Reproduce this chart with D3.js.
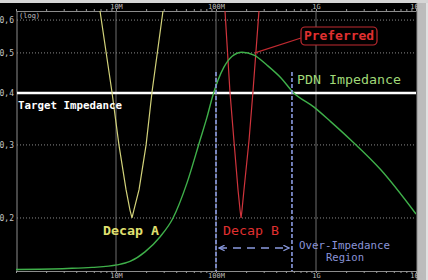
<!DOCTYPE html>
<html>
<head>
<meta charset="utf-8">
<script src="https://cdn.jsdelivr.net/npm/d3@7/dist/d3.min.js"></script>
<style>
html,body{margin:0;padding:0;background:#000;overflow:hidden}
text{font-family:"DejaVu Sans Mono","Liberation Mono",monospace}
</style>
</head>
<body>
<script>
// axis ticks
var freqDecades = [1e7, 1e8, 1e9, 1e10];
var freqLabels = ["10M", "100M", "1G", "10G"];
var impTicks = [0.2, 0.3, 0.4, 0.5, 0.6];
var targetImpedance = 0.4;

// PDN impedance (Hz, ohm)
var pdnFreq = [1e6, 3.24e6, 5.75e6, 1.02e7, 1.38e7, 1.95e7, 2.75e7, 3.72e7, 5.13e7, 6.92e7, 8.13e7, 9.33e7,
               1.20e8, 1.45e8, 1.82e8, 2.40e8, 3.24e8, 4.47e8, 5.89e8, 9.55e8, 1.41e9, 2.24e9, 4.47e9, 1e10];
var pdnZ = [0.1503, 0.1511, 0.1520, 0.1541, 0.1571, 0.1657, 0.180, 0.200, 0.243, 0.308, 0.350, 0.396,
            0.462, 0.491, 0.502, 0.494, 0.467, 0.435, 0.402, 0.370, 0.341, 0.308, 0.261, 0.2045];

// decap A
var decapAFreq = [6.61e6, 6.92e6, 9.12e6, 1.07e7, 1.26e7, 1.38e7, 1.445e7, 1.51e7, 1.70e7, 2.0e7, 2.29e7, 2.95e7, 3.09e7];
var decapAZ = [0.682, 0.631, 0.402, 0.300, 0.234, 0.209, 0.200, 0.209, 0.234, 0.300, 0.402, 0.631, 0.682];

// decap B
var decapBFreq = [1.20e8, 1.23e8, 1.38e8, 1.51e8, 1.66e8, 1.74e8, 1.78e8, 1.82e8, 1.905e8, 2.14e8, 2.34e8, 2.69e8, 2.75e8];
var decapBZ = [0.682, 0.631, 0.402, 0.308, 0.234, 0.209, 0.200, 0.209, 0.234, 0.308, 0.402, 0.631, 0.682];

// over-impedance band
var overRegion = [1e8, 5.75e8];

var W = 428, H = 280;
var mL = 16, mR = 416, mT = 11, mB = 271;

var svg = d3.select("body").append("svg")
    .attr("width", W)
    .attr("height", H)
    .style("display", "block");

svg.append("rect").attr("width", W).attr("height", H).attr("fill", "#000");

var x = d3.scaleLog().domain([1e6, 1e10]).range([mL, mR]);
var y = d3.scaleLog().domain([0.149, 0.631]).range([mB, mT]);

var defs = svg.append("defs");
defs.append("clipPath").attr("id", "plot")
    .append("rect")
    .attr("x", mL).attr("y", mT)
    .attr("width", mR - mL).attr("height", mB - mT);

defs.append("marker").attr("id", "arr")
    .attr("viewBox", "0 0 10 10").attr("refX", 9).attr("refY", 5)
    .attr("markerWidth", 7).attr("markerHeight", 7)
    .attr("markerUnits", "userSpaceOnUse")
    .attr("orient", "auto-start-reverse")
    .append("path").attr("d", "M1,1L9,5L1,9")
    .attr("fill", "none").attr("stroke", "#8a9ae0").attr("stroke-width", 1.8);

// top light strip + right gray bar
svg.append("rect").attr("x", 0).attr("y", 0).attr("width", W).attr("height", 3).attr("fill", "#d6d6d6");
svg.append("rect").attr("x", mR + 1).attr("y", 3).attr("width", W - mR - 1).attr("height", H - 3).attr("fill", "#bcbcbc");
svg.append("rect").attr("x", W - 2).attr("y", 3).attr("width", 2).attr("height", H - 3).attr("fill", "#e2e2e2");
svg.append("line").attr("x1", mR + 1).attr("x2", mR + 1).attr("y1", 3).attr("y2", H).attr("stroke", "#8a8a8a");

// minor + major tick list
var minorTicks = [];
[1e6, 1e7, 1e8, 1e9].forEach(function (d) {
  for (var k = 1; k < 10; k++) minorTicks.push(d * k);
});
minorTicks.push(1e10);

function freqFmt(d) {
  var i = freqDecades.indexOf(d);
  return i < 0 ? "" : freqLabels[i];
}

var topAxis = svg.append("g")
    .attr("transform", "translate(0," + mT + ")")
    .call(d3.axisTop(x).tickValues(minorTicks).tickFormat(freqFmt).tickSize(2).tickSizeOuter(0));
var botAxis = svg.append("g")
    .attr("transform", "translate(0," + mB + ")")
    .call(d3.axisBottom(x).tickValues(minorTicks).tickFormat(freqFmt).tickSize(2).tickSizeOuter(0));

[topAxis, botAxis].forEach(function (g) {
  g.select(".domain").attr("stroke", "#8c8c8c");
  g.selectAll(".tick line").attr("stroke", "#9a9a9a");
  g.selectAll(".tick text").attr("fill", "#bbbbbb").style("font-size", "7px")
      .style("font-family", "'DejaVu Sans Mono',monospace");
});
topAxis.selectAll(".tick text").attr("y", -2);
botAxis.selectAll(".tick text").attr("y", 2);

// vertical grid at decades
svg.append("g").selectAll("line")
    .data(freqDecades.slice(0, 3))
    .enter().append("line")
    .attr("x1", function (d) { return x(d); })
    .attr("x2", function (d) { return x(d); })
    .attr("y1", mT).attr("y2", mB)
    .attr("stroke", "#6e6e6e").attr("stroke-width", 1);

// left axis line
svg.append("line").attr("x1", mL + 1).attr("x2", mL + 1).attr("y1", mT).attr("y2", mB)
    .attr("stroke", "#8c8c8c");

// horizontal dotted grid
svg.append("g").selectAll("line")
    .data(impTicks)
    .enter().append("line")
    .attr("x1", mL + 1).attr("x2", mR)
    .attr("y1", function (d) { return y(d); })
    .attr("y2", function (d) { return y(d); })
    .attr("stroke", "#8a8a8a").attr("stroke-width", 1)
    .attr("stroke-dasharray", "1,2");

var leftAxis = svg.append("g")
    .attr("transform", "translate(" + (mL - 1) + ",0)")
    .call(d3.axisLeft(y).tickValues(impTicks).tickSize(0)
      .tickFormat(function (d) { return d3.format(".1f")(d).replace(".", ","); }));
leftAxis.select(".domain").remove();
leftAxis.selectAll(".tick text").attr("fill", "#c4c4c4").attr("x", -1)
    .style("font-size", "8px").style("font-family", "'DejaVu Sans Mono',monospace");

svg.append("text").attr("x", mL + 3).attr("y", mT + 7)
    .attr("fill", "#c4c4c4").style("font-size", "7px").text("(log)");

// target impedance
svg.append("line")
    .attr("x1", mL + 1).attr("x2", mR)
    .attr("y1", y(targetImpedance)).attr("y2", y(targetImpedance))
    .attr("stroke", "#ffffff").attr("stroke-width", 2.5);

var plot = svg.append("g").attr("clip-path", "url(#plot)");

function zline(freq, z, curve) {
  return d3.line()
      .x(function (d, i) { return x(freq[i]); })
      .y(function (d, i) { return y(z[i]); })
      .curve(curve)(z);
}

plot.append("path")
    .attr("d", zline(decapAFreq, decapAZ, d3.curveLinear))
    .attr("fill", "none").attr("stroke", "#d2d27a").attr("stroke-width", 1.2);

plot.append("path")
    .attr("d", zline(decapBFreq, decapBZ, d3.curveLinear))
    .attr("fill", "none").attr("stroke", "#d0343c").attr("stroke-width", 1.2);

plot.append("path")
    .attr("d", zline(pdnFreq, pdnZ, d3.curveMonotoneX))
    .attr("fill", "none").attr("stroke", "#3fb04a").attr("stroke-width", 1.4);

// over-impedance band
var blue = "#8a9ae0";
svg.append("g").selectAll("line")
    .data(overRegion)
    .enter().append("line")
    .attr("x1", function (d) { return x(d); })
    .attr("x2", function (d) { return x(d); })
    .attr("y1", y(0.45)).attr("y2", mB)
    .attr("stroke", blue).attr("stroke-width", 1.6)
    .attr("stroke-dasharray", "4,2");

svg.append("line")
    .attr("x1", x(overRegion[0]) + 3).attr("x2", x(overRegion[1]) - 3)
    .attr("y1", 248).attr("y2", 248)
    .attr("stroke", blue).attr("stroke-width", 1.6)
    .attr("stroke-dasharray", "8,6")
    .attr("marker-start", "url(#arr)").attr("marker-end", "url(#arr)");

// labels
function label(t, xx, yy, size, w, col, bold) {
  return svg.append("text").attr("x", xx).attr("y", yy)
      .attr("fill", col).style("font-size", size + "px")
      .style("font-weight", bold ? "bold" : "normal")
      .attr("textLength", w).attr("lengthAdjust", "spacingAndGlyphs")
      .text(t);
}
label("Target Impedance", 18, 109, 11, 104, "#ffffff", true);
label("PDN Impedance", 297, 84, 12, 104, "#a0d878", false);
label("Decap A", 103, 235, 12, 56, "#e0e070", true);
label("Decap B", 223, 235, 12, 56, "#e03030", false);
label("Over-Impedance", 299, 249, 10, 91, "#8a94d8", false);
label("Region", 326, 261, 10, 38, "#8a94d8", false);

// preferred callout
svg.append("line")
    .attr("x1", 301).attr("y1", 38)
    .attr("x2", x(2.45e8)).attr("y2", y(0.5))
    .attr("stroke", "#c02a30").attr("stroke-width", 1.2);
svg.append("rect")
    .attr("x", 301).attr("y", 27).attr("width", 76).attr("height", 18).attr("rx", 4)
    .attr("fill", "#000").attr("stroke", "#c02a30").attr("stroke-width", 1.2);
label("Preferred", 304, 40, 13, 70, "#e03030", true);
</script>
</body>
</html>
